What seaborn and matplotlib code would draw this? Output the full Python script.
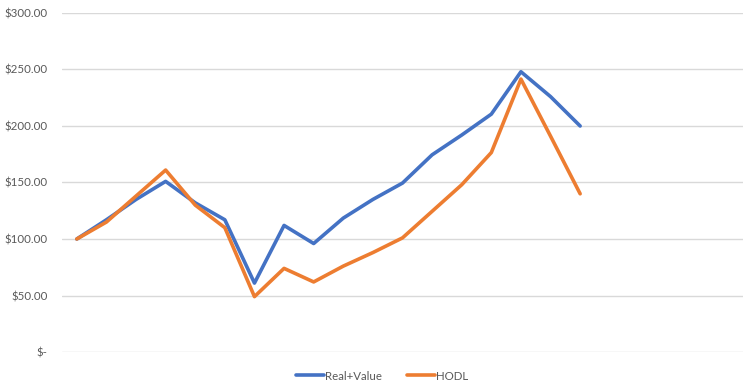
import numpy as np
import pandas as pd
import matplotlib
matplotlib.use("Agg")
import matplotlib.pyplot as plt
from matplotlib.ticker import FuncFormatter
import seaborn as sns

# 23 category slots on the x axis, only the first 18 carry data
n_slots = 23
real_value = [100, 117, 135, 151, 132, 117, 61, 112, 96, 118.5, 135, 149.5,
              174.5, 192, 210.5, 248, 226, 200]
hodl = [100, 115, 138, 161, 130, 110, 49, 74, 62, 76, 88, 101,
        124.5, 148, 176.5, 241.5, 191, 140]
series_names = ["Real+Value", "HODL"]
colors = ["#4472C4", "#ED7D31"]

df = pd.DataFrame({
    "idx": list(range(len(real_value))) * 2,
    "value": real_value + hodl,
    "series": [series_names[0]] * len(real_value) + [series_names[1]] * len(hodl),
})

sns.set_theme(style="white")
plt.rcParams["font.family"] = ["Lato", "DejaVu Sans"]

fig = plt.figure(figsize=(7.54, 3.92), dpi=100)
ax = fig.add_axes([62 / 754, 1 - 352 / 392, (743 - 62) / 754, (352 - 13) / 392])

sns.lineplot(data=df, x="idx", y="value", hue="series", palette=colors,
             linewidth=2.6, ax=ax, legend=True)

ax.set_xlim(-0.5, n_slots - 0.5)
ax.set_ylim(0, 300)
ax.set_yticks(np.arange(0, 301, 50))
ax.yaxis.set_major_formatter(FuncFormatter(
    lambda v, p: "$-" if v == 0 else f"${v:,.2f}"))
ax.set_xticks([])
ax.set_xlabel("")
ax.set_ylabel("")
ax.grid(axis="y", color="#d9d9d9", linewidth=1)
ax.set_axisbelow(True)
for s in ax.spines.values():
    s.set_visible(False)
ax.tick_params(axis="y", length=0, pad=10.5, labelsize=8.3, labelcolor="#595959")

leg = ax.legend(loc="center", bbox_to_anchor=(382 / 754, 1 - 376 / 392),
                bbox_transform=fig.transFigure, ncol=2, frameon=False,
                fontsize=8.3, handlelength=2.4, handletextpad=0.1,
                columnspacing=2.2)
for t in leg.get_texts():
    t.set_color("#595959")
for h in leg.get_lines():
    h.set_linewidth(2.6)

fig.savefig("out.png", dpi=100)
